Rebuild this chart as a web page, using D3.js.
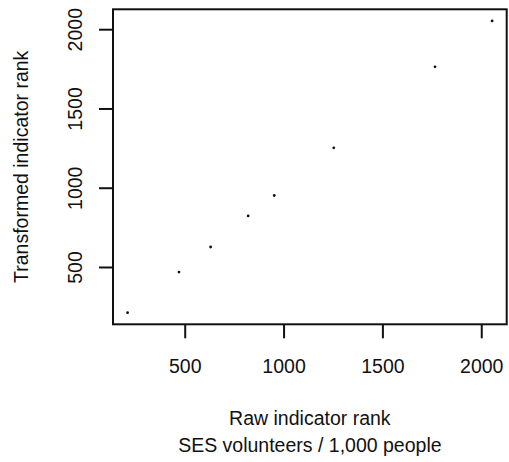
<!DOCTYPE html>
<html>
<head>
<meta charset="utf-8">
<script src="https://cdn.jsdelivr.net/npm/d3@7/dist/d3.min.js"></script>
<style>
  html, body { margin: 0; padding: 0; background: #fff; }
  svg { display: block; font-family: "Liberation Sans", Arial, sans-serif; }
</style>
</head>
<body>
<svg id="chart" width="509" height="462"></svg>
<script>
// Data
const rawRank = [211, 471, 631, 821, 953, 1254, 1766, 2055];
const transformedRank = [212, 468, 626, 822, 951, 1252, 1763, 2052];
const xTicks = [500, 1000, 1500, 2000];
const yTicks = [500, 1000, 1500, 2000];
const xTitle = ["Raw indicator rank", "SES volunteers / 1,000 people"];
const yTitle = "Transformed indicator rank";

const plot = { left: 113, right: 506.7, top: 9.3, bottom: 324.3 };
const fontSize = 19.5;
const ink = "#111";

function rDomain(vals) {
  const [a, b] = d3.extent(vals);
  const r = b - a;
  return [a - 0.04 * r, b + 0.04 * r];
}

const x = d3.scaleLinear().domain(rDomain(rawRank)).range([plot.left, plot.right]);
const y = d3.scaleLinear().domain(rDomain(transformedRank)).range([plot.bottom, plot.top]);

const svg = d3.select("#chart");

// X axis
const gx = svg.append("g")
  .attr("transform", `translate(0,${plot.bottom})`)
  .call(d3.axisBottom(x).tickValues(xTicks).tickSize(14).tickFormat(d3.format("d")));
gx.select(".domain").remove();
gx.selectAll(".tick line").attr("stroke", ink).attr("stroke-width", 2);
gx.selectAll(".tick text")
  .attr("y", 49).attr("dy", 0)
  .attr("fill", ink)
  .style("font-size", fontSize + "px")
  .style("font-family", "'Liberation Sans', Arial, sans-serif");

// Y axis
const gy = svg.append("g")
  .attr("transform", `translate(${plot.left},0)`)
  .call(d3.axisLeft(y).tickValues(yTicks).tickSize(14).tickFormat(d3.format("d")));
gy.select(".domain").remove();
gy.selectAll(".tick line").attr("stroke", ink).attr("stroke-width", 2);
gy.selectAll(".tick text")
  .attr("transform", "rotate(-90)")
  .attr("x", 0).attr("y", -31).attr("dy", 0)
  .attr("text-anchor", "middle")
  .attr("fill", ink)
  .style("font-size", fontSize + "px")
  .style("font-family", "'Liberation Sans', Arial, sans-serif");

// Box
svg.append("rect")
  .attr("x", plot.left).attr("y", plot.top)
  .attr("width", plot.right - plot.left)
  .attr("height", plot.bottom - plot.top)
  .attr("fill", "none").attr("stroke", ink).attr("stroke-width", 2);

// Points
svg.append("g").selectAll("circle")
  .data(rawRank.map((v, i) => [v, transformedRank[i]]))
  .join("circle")
  .attr("cx", d => x(d[0]))
  .attr("cy", d => y(d[1]))
  .attr("r", 1.4)
  .attr("fill", ink);

// Titles
const cx = (plot.left + plot.right) / 2;
svg.append("text")
  .attr("x", cx).attr("y", 425)
  .attr("text-anchor", "middle")
  .attr("fill", ink)
  .style("font-size", fontSize + "px")
  .text(xTitle[0]);
svg.append("text")
  .attr("x", cx).attr("y", 451.7)
  .attr("text-anchor", "middle")
  .attr("fill", ink)
  .style("font-size", fontSize + "px")
  .text(xTitle[1]);

const cy = (plot.top + plot.bottom) / 2;
svg.append("text")
  .attr("transform", `translate(28.3,${cy}) rotate(-90)`)
  .attr("text-anchor", "middle")
  .attr("fill", ink)
  .style("font-size", fontSize + "px")
  .text(yTitle);
</script>
</body>
</html>
